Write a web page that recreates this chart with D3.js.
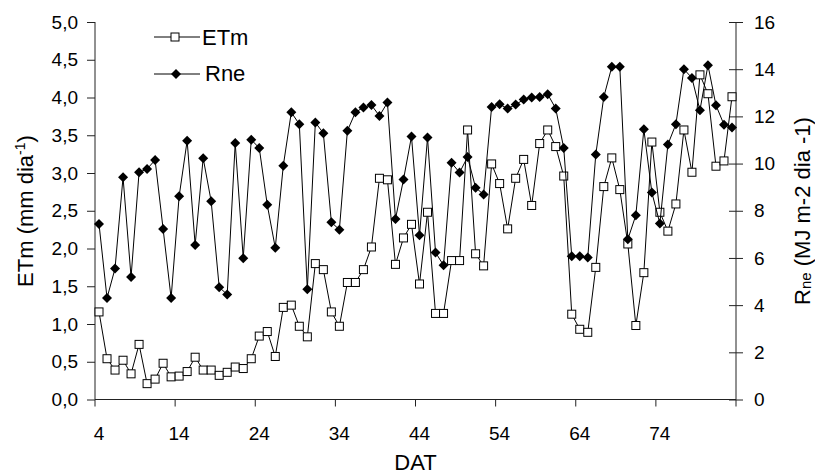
<!DOCTYPE html>
<html><head><meta charset="utf-8">
<script src="https://cdn.jsdelivr.net/npm/d3@7"></script>
<style>
html,body{margin:0;padding:0;background:#fff;}
text{font-family:"Liberation Sans",Arial,sans-serif;fill:#000;}
</style></head>
<body>
<svg id="chart" width="815" height="474"></svg>
<script>
const dat = [4,5,6,7,8,9,10,11,12,13,14,15,16,17,18,19,20,21,22,23,24,25,26,27,28,29,30,31,32,33,34,35,36,37,38,39,40,41,42,43,44,45,46,47,48,49,50,51,52,53,54,55,56,57,58,59,60,61,62,63,64,65,66,67,68,69,70,71,72,73,74,75,76,77,78,79,80,81,82,83];
const etm = [1.16,0.54,0.39,0.52,0.34,0.73,0.21,0.27,0.48,0.30,0.31,0.37,0.56,0.39,0.39,0.32,0.36,0.43,0.41,0.54,0.84,0.90,0.57,1.22,1.25,0.97,0.83,1.80,1.72,1.16,0.97,1.55,1.55,1.72,2.02,2.93,2.91,1.79,2.14,2.32,1.53,2.48,1.14,1.14,1.84,1.84,3.57,1.93,1.77,3.12,2.86,2.26,2.93,3.18,2.57,3.39,3.57,3.35,2.96,1.13,0.93,0.89,1.75,2.82,3.20,2.78,2.06,0.98,1.68,3.41,2.48,2.23,2.59,3.57,3.01,4.30,4.05,3.09,3.16,4.01];
const rne = [7.44,4.30,5.55,9.42,5.19,9.63,9.77,10.15,7.23,4.30,8.61,10.97,6.55,10.23,8.40,4.76,4.45,10.87,5.99,11.01,10.66,8.25,6.43,9.91,12.17,11.67,4.67,11.74,11.29,7.51,7.20,11.39,12.17,12.38,12.48,12.02,12.59,7.65,9.32,11.15,6.96,11.10,6.23,5.69,10.03,9.62,10.28,8.98,8.69,12.40,12.51,12.33,12.50,12.71,12.80,12.82,12.94,12.33,10.66,6.07,6.07,6.02,10.38,12.82,14.10,14.10,6.79,7.81,11.45,8.77,7.46,10.81,11.67,14.00,13.63,12.26,14.17,12.47,11.65,11.53];
const xTickLabels = [4,14,24,34,44,54,64,74];
const leftTicks = [0,0.5,1,1.5,2,2.5,3,3.5,4,4.5,5];
const rightTicks = [0,2,4,6,8,10,12,14,16];

const svg = d3.select("#chart");
const L = 95, R = 736, T = 22, B = 399.5;
const axisColor = "#222";
const fsTick = 19, fsTitle = 22;

const x = d3.scaleBand().domain(dat).range([L, R]).padding(0);
const yL = d3.scaleLinear().domain([0,5]).range([B, T]);
const yR = d3.scaleLinear().domain([0,16]).range([B, T]);
const cx = d => x(d) + x.bandwidth()/2;

// Left axis
const gL = svg.append("g").attr("transform", `translate(${L},0)`)
  .call(d3.axisLeft(yL).tickValues(leftTicks).tickSize(8).tickPadding(9)
    .tickFormat(v => d3.format(".1f")(v).replace(".", ",")));
// Right axis
const gR = svg.append("g").attr("transform", `translate(${R},0)`)
  .call(d3.axisRight(yR).tickValues(rightTicks).tickSize(7).tickPadding(11).tickFormat(d3.format("d")));
gR.selectAll(".tick line").attr("x1", -7);
[gL, gR].forEach(g => {
  g.select(".domain").remove();
  g.selectAll(".tick text").style("font-size", fsTick + "px").attr("fill", "#000");
  g.selectAll(".tick line").attr("stroke", axisColor);
});
svg.append("line").attr("x1", L).attr("x2", L).attr("y1", T).attr("y2", B).attr("stroke", axisColor);
svg.append("line").attr("x1", R).attr("x2", R).attr("y1", T).attr("y2", B).attr("stroke", axisColor);

// Bottom axis: ticks at category boundaries every 10, labels at category centers
const gB = svg.append("g").attr("transform", `translate(0,${B})`);
gB.append("line").attr("x1", L).attr("x2", R).attr("y1", 0).attr("y2", 0).attr("stroke", axisColor);
const boundaries = dat.filter((d,i) => i % 10 === 0).map(d => x(d)).concat([R]);
gB.selectAll("line.tk").data(boundaries).join("line").attr("class","tk")
  .attr("x1", d => d).attr("x2", d => d).attr("y1", 0).attr("y2", 7).attr("stroke", axisColor);
gB.selectAll("text.lbl").data(xTickLabels).join("text").attr("class","lbl")
  .attr("x", d => cx(d)).attr("y", 40.5).attr("text-anchor","middle")
  .style("font-size", fsTick + "px").text(d => d);

// Axis titles
svg.append("text").attr("x", 415.5).attr("y", 470).attr("text-anchor","middle")
  .style("font-size", fsTitle + "px").text("DAT");

const lt = svg.append("text").attr("transform", `translate(33,211) rotate(-90)`)
  .attr("text-anchor","middle").style("font-size", fsTitle + "px");
lt.append("tspan").text("ETm (mm dia");
lt.append("tspan").attr("dy", -8).style("font-size", "14px").text("-1");
lt.append("tspan").attr("dy", 8).text(")");

const rt = svg.append("text").attr("transform", `translate(810,211) rotate(-90)`)
  .attr("text-anchor","middle").style("font-size", fsTitle + "px");
rt.append("tspan").text("R");
rt.append("tspan").attr("dy", 1).style("font-size", "15px").text("ne");
rt.append("tspan").attr("dy", -1).text(" (MJ m-2 dia -1)");

// Series
const lineE = d3.line().x((d,i) => cx(dat[i])).y(d => yL(d));
const lineR = d3.line().x((d,i) => cx(dat[i])).y(d => yR(d));

svg.append("path").datum(etm).attr("d", lineE).attr("fill","none").attr("stroke","#000").attr("stroke-width",1);
svg.append("g").selectAll("rect").data(etm).join("rect")
  .attr("x", (d,i) => cx(dat[i]) - 4).attr("y", d => yL(d) - 4)
  .attr("width", 8).attr("height", 8).attr("fill","#fff").attr("stroke","#000").attr("stroke-width",1);

svg.append("path").datum(rne).attr("d", lineR).attr("fill","none").attr("stroke","#000").attr("stroke-width",1);
const diamond = "M0,-5L5,0L0,5L-5,0Z";
svg.append("g").selectAll("path").data(rne).join("path")
  .attr("transform", (d,i) => `translate(${cx(dat[i])},${yR(d)})`)
  .attr("d", diamond).attr("fill","#000");

// Legend
const leg = svg.append("g");
leg.append("line").attr("x1",154).attr("x2",200).attr("y1",37).attr("y2",37).attr("stroke","#000");
leg.append("rect").attr("x",171).attr("y",33).attr("width",8).attr("height",8).attr("fill","#fff").attr("stroke","#000");
leg.append("text").attr("x",202).attr("y",44.5).style("font-size", fsTitle + "px").text("ETm");
leg.append("line").attr("x1",154).attr("x2",200).attr("y1",74).attr("y2",74).attr("stroke","#000");
leg.append("path").attr("transform","translate(176,74)").attr("d", diamond).attr("fill","#000");
leg.append("text").attr("x",205).attr("y",81).style("font-size", fsTitle + "px").text("Rne");
</script>
</body></html>
